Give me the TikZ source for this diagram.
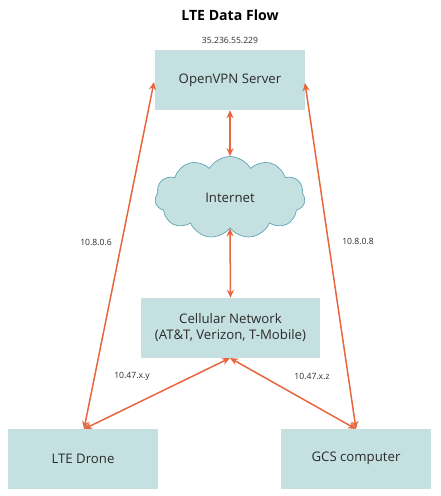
\documentclass[tikz,border=0pt]{standalone}
\usepackage{fontspec}
\setmainfont{Open Sans}
\usetikzlibrary{shapes.symbols,arrows.meta}
\definecolor{boxfill}{HTML}{C5E0E1}
\definecolor{cloudline}{HTML}{5FA6B4}
\definecolor{arrowc}{HTML}{E8663D}
\definecolor{txt}{HTML}{2B2B2B}
\tikzset{
  box/.style={fill=boxfill, draw=none, minimum width=150pt, minimum height=60pt, inner sep=0pt, text=txt, font=\fontsize{13.2}{16}\selectfont, align=center},
  lbl/.style={font=\fontsize{8.6}{10}\selectfont, text=txt},
  link/.style={draw=arrowc, line width=1.5pt, {Stealth[length=8pt,width=7pt]}-{Stealth[length=8pt,width=7pt]}},
}
\begin{document}
\begin{tikzpicture}[x=1pt,y=-1pt]
\useasboundingbox (0,0) rectangle (441,496);
\node[font=\bfseries\fontsize{14.1}{17}\selectfont, text=black] (title) at (230,15) {LTE Data Flow};
\node[lbl] (ip) at (230,40) {35.236.55.229};
\node[box] (vpn) at (230,80) {OpenVPN Server};
\node[cloud, cloud puffs=11, cloud puff arc=120, aspect=1.85, fill=boxfill, draw=cloudline, line width=0.7pt, minimum width=150pt, minimum height=82pt, inner sep=0pt, text=txt, font=\fontsize{13.2}{16}\selectfont] (net) at (230,197.5) {Internet};
\node[box, minimum width=179pt] (cell) at (230.5,328) {Cellular Network\\(AT\&T, Verizon, T-Mobile)};
\node[box] (drone) at (83,458.5) {LTE Drone};
\node[box] (gcs) at (356,458.5) {GCS computer};
\coordinate (vpnL) at (154,82);
\coordinate (vpnR) at (305,83);
\coordinate (droneT) at (84,429);
\coordinate (gcsT) at (356,429);
\coordinate (cellB) at (230,358);
\draw[link] (vpn.south) -- (net.north);
\draw[link] (net.south) -- (cell.north);
\draw[link] (droneT) -- (vpnL);
\draw[link] (gcsT) -- (vpnR);
\draw[link] (droneT) -- (cellB);
\draw[link] (gcsT) -- (cellB);
\node[lbl] (l1) at (96,242) {10.8.0.6};
\node[lbl] (l2) at (358,241) {10.8.0.8};
\node[lbl] (l3) at (132,376) {10.47.x.y};
\node[lbl] (l4) at (312,376) {10.47.x.z};
\end{tikzpicture}
\end{document}
